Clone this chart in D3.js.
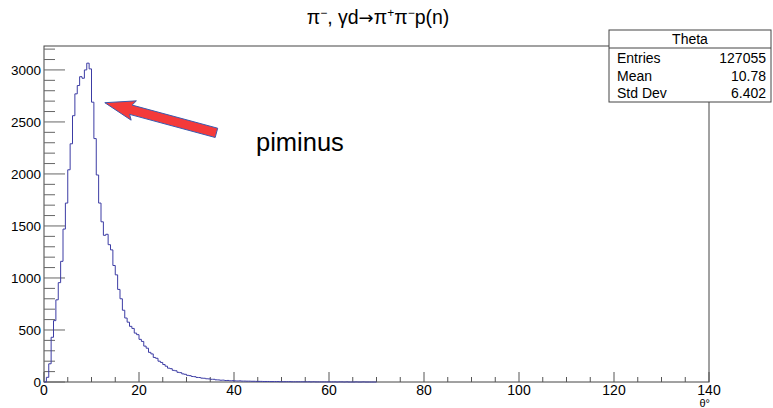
<!DOCTYPE html>
<html>
<head>
<meta charset="utf-8">
<script src="https://cdn.jsdelivr.net/npm/d3@7"></script>
<style>
  body { margin: 0; background: #fff; }
  text { font-family: "Liberation Sans", Arial, sans-serif; }
</style>
</head>
<body>
<script>
// histogram contents, 0.5 degree bins starting at 0
var binWidth = 0.5;
var counts = [
  0, 45, 175, 430, 590, 790, 955, 1160, 1470, 1720,
  2040, 2290, 2560, 2770, 2850, 2935, 2920, 3000, 3065, 3010,
  2690, 2340, 1990, 1720, 1540, 1410, 1420, 1320, 1270, 1120,
  1030, 890, 800, 690, 615, 575, 535, 515, 470, 455,
  410, 390, 345, 325, 285, 270, 236, 228, 200, 188,
  168, 152, 133, 128, 112, 108, 93, 90, 78, 74,
  64, 61, 53, 51, 44, 43, 37, 36, 31, 30,
  26, 26, 21, 20, 17, 18, 14, 15, 12, 13,
  11, 10, 11, 9, 9, 8, 8, 7, 7, 6,
  6, 6, 5, 5, 5, 4, 4, 4, 4, 3,
  3, 3, 3, 3, 2, 2, 2, 2, 2, 2,
  2, 2, 1, 2, 1, 1, 1, 1, 1, 1,
  1, 1, 1, 0, 1, 1, 0, 1, 0, 0,
  0, 1, 0, 0, 1, 0, 0, 0, 0, 0
];
var xTicks = [0, 20, 40, 60, 80, 100, 120, 140];
var yTicks = [0, 500, 1000, 1500, 2000, 2500, 3000];
var statsLabels = ["Entries", "Mean", "Std Dev"];
var statsValues = ["127055", "10.78", "6.402"];
// arrow annotation in data units: tip and tail
var arrowTip = [12.8, 2685];
var arrowTail = [36.3, 2395];

var W = 773, H = 408;
var padL = 44, padR = 709, padT = 46, padB = 382;

var svg = d3.select("body").append("svg")
  .attr("width", W).attr("height", H);

var x = d3.scaleLinear().domain([0, 140]).range([padL, padR]);
var y = d3.scaleLinear().domain([0, 3230]).range([padB, padT]);

//frame
svg.append("rect")
  .attr("x", padL).attr("y", padT)
  .attr("width", padR - padL).attr("height", padB - padT)
  .attr("fill", "none").attr("stroke", "#444").attr("stroke-width", 1);

//x axis ticks: majors every 20, minors every 5
var xMinor = d3.range(0, 141, 5);
svg.selectAll(".xt").data(xMinor).enter().append("line")
  .attr("x1", d => x(d)).attr("x2", d => x(d))
  .attr("y1", padB)
  .attr("y2", d => d % 20 === 0 ? padB - 10 : padB - 5)
  .attr("stroke", "#555");
svg.selectAll(".xl").data(xTicks).enter().append("text")
  .attr("x", d => x(d)).attr("y", 395)
  .attr("text-anchor", "middle").attr("font-size", 14)
  .text(d => d);
svg.append("text").attr("x", padR + 1).attr("y", 407)
  .attr("text-anchor", "end").attr("font-size", 11).text("θ°");

//y axis ticks: majors every 500, minors every 100
var yMinor = d3.range(0, 3201, 100);
svg.selectAll(".yt").data(yMinor).enter().append("line")
  .attr("x1", padL)
  .attr("x2", d => d % 500 === 0 ? padL + 21 : padL + 11)
  .attr("y1", d => y(d)).attr("y2", d => y(d))
  .attr("stroke", "#666");
svg.selectAll(".yl").data(yTicks).enter().append("text")
  .attr("x", 41).attr("y", d => y(d) + 5)
  .attr("text-anchor", "end").attr("font-size", 13.5)
  .text(d => d);

//histogram as steps
var pts = [[x(0), y(0)]];
counts.forEach(function(c, i) {
  pts.push([x(i * binWidth), y(c)]);
  pts.push([x((i + 1) * binWidth), y(c)]);
});
pts.push([x(counts.length * binWidth), y(0)]);
svg.append("path")
  .attr("d", d3.line()(pts))
  .attr("fill", "none").attr("stroke", "#3c3ca4").attr("stroke-width", 1);

//arrow
var tx = x(arrowTip[0]), ty = y(arrowTip[1]);
var ex = x(arrowTail[0]), ey = y(arrowTail[1]);
var ang = Math.atan2(ey - ty, ex - tx);
var len = Math.hypot(ex - tx, ey - ty);
var headLen = 30, headHalf = 10, shaftHalf = 4.8;
var arrowShape = [
  [0, 0], [headLen, -headHalf], [headLen - 3, -shaftHalf],
  [len, -shaftHalf], [len, shaftHalf], [headLen - 3, shaftHalf],
  [headLen, headHalf]
];
svg.append("polygon")
  .attr("points", arrowShape.map(function(p) {
    return [tx + p[0] * Math.cos(ang) - p[1] * Math.sin(ang),
            ty + p[0] * Math.sin(ang) + p[1] * Math.cos(ang)].join(",");
  }).join(" "))
  .attr("fill", "#f43a3a").attr("stroke", "#3a5bb0").attr("stroke-width", 1);

svg.append("text").attr("x", 256).attr("y", 151)
  .attr("font-size", 25.5).text("piminus");

//title
var title = svg.append("text").attr("x", 378).attr("y", 24)
  .attr("text-anchor", "middle").attr("font-size", 19.5);
title.append("tspan").text("π");
title.append("tspan").attr("font-size", 12).attr("dy", -7).text("−");
title.append("tspan").attr("dy", 7).text(", γd");
title.append("tspan").style("font-family", "'DejaVu Sans'").attr("font-size", 18).text("→");
title.append("tspan").text("π");
title.append("tspan").attr("font-size", 12).attr("dy", -7).text("+");
title.append("tspan").attr("dy", 7).text("π");
title.append("tspan").attr("font-size", 12).attr("dy", -7).text("−");
title.append("tspan").attr("dy", 7).text("p(n)");

//stats box
var sx = 609, sy = 30, sw = 162, sh = 72;
svg.append("rect").attr("x", sx).attr("y", sy).attr("width", sw).attr("height", sh)
  .attr("fill", "#fff").attr("stroke", "#444");
svg.append("line").attr("x1", sx).attr("x2", sx + sw).attr("y1", 48).attr("y2", 48)
  .attr("stroke", "#444");
svg.append("text").attr("x", sx + sw / 2).attr("y", 44)
  .attr("text-anchor", "middle").attr("font-size", 14).text("Theta");
statsLabels.forEach(function(l, i) {
  svg.append("text").attr("x", 617).attr("y", 63 + i * 17.5)
    .attr("font-size", 14).text(l);
  svg.append("text").attr("x", 766).attr("y", 63 + i * 17.5)
    .attr("text-anchor", "end").attr("font-size", 14).text(statsValues[i]);
});
</script>
</body>
</html>
